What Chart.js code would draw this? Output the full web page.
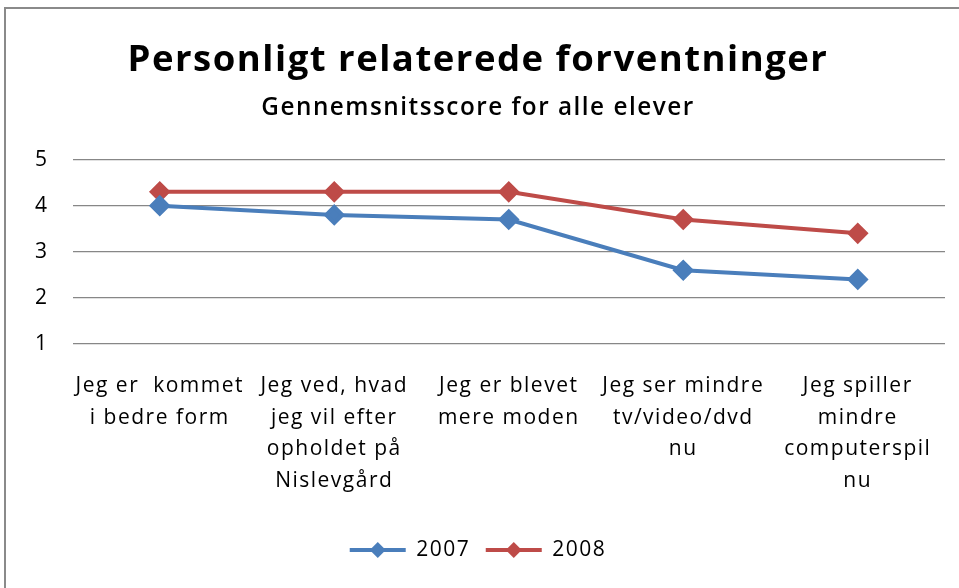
<!DOCTYPE html>
<html>
<head>
<meta charset="utf-8">
<script src="https://cdn.jsdelivr.net/npm/chart.js@4"></script>
<style>
  body { margin: 0; background: #fff; }
  #wrap { position: absolute; left: 0; top: 0; width: 959px; height: 588px; }
  #frame { position: absolute; left: 4px; top: 7px; width: 970px; height: 600px;
           border-top: 2px solid #8a8a8a; border-left: 2px solid #8a8a8a; pointer-events: none; }
</style>
</head>
<body>
<div id="wrap"><canvas id="chart" width="959" height="588"></canvas></div>
<div id="frame"></div>
<script>
const categories = [
    ['Jeg er  kommet', 'i bedre form'],
    ['Jeg ved, hvad', 'jeg vil efter', 'opholdet på', 'Nislevgård'],
    ['Jeg er blevet', 'mere moden'],
    ['Jeg ser mindre', 'tv/video/dvd', 'nu'],
    ['Jeg spiller', 'mindre', 'computerspil', 'nu']
]
const values2007 = [4.0, 3.8, 3.7, 2.6, 2.4]
const values2008 = [4.3, 4.3, 4.3, 3.7, 3.4]
const yTicks = [1, 2, 3, 4, 5]

const blue = '#4a7ebb'
const red = '#be4b48'
const fontFamily = '"Open Sans", "Noto Sans", sans-serif'

Chart.defaults.font.family = fontFamily
Chart.defaults.color = '#000'

// the original text is a bit wider spaced than Open Sans
const spacing = {
    id: 'spacing',
    beforeUpdate(chart) { chart.ctx.letterSpacing = '1.5px' },
    beforeDraw(chart) { chart.ctx.letterSpacing = '1.5px' }
}

// draws a diamond on each legend line, like the original
const legendMarkers = {
    id: 'legendMarkers',
    afterDraw(chart) {
        let legend = chart.legend
        if (!legend || !legend.legendHitBoxes) return
        let ctx = chart.ctx
        let boxW = legend.options.labels.boxWidth
        legend.legendHitBoxes.forEach((hb, i) => {
            let ds = chart.data.datasets[i]
            let cx = hb.left + boxW / 2
            let cy = hb.top + hb.height / 2
            let r = 8
            ctx.save()
            ctx.fillStyle = ds.borderColor
            ctx.beginPath()
            ctx.moveTo(cx, cy - r)
            ctx.lineTo(cx + r, cy)
            ctx.lineTo(cx, cy + r)
            ctx.lineTo(cx - r, cy)
            ctx.closePath()
            ctx.fill()
            ctx.restore()
        })
    }
}

new Chart(document.getElementById('chart').getContext('2d'), {
    type: 'line',
    data: {
        labels: categories,
        datasets: [{
            label: '2007',
            data: values2007,
            borderColor: blue,
            backgroundColor: blue,
            borderWidth: 4,
            pointStyle: 'rectRot',
            pointRadius: 8,
            pointHoverRadius: 8,
            tension: 0
        }, {
            label: '2008',
            data: values2008,
            borderColor: red,
            backgroundColor: red,
            borderWidth: 4,
            pointStyle: 'rectRot',
            pointRadius: 8,
            pointHoverRadius: 8,
            tension: 0
        }]
    },
    options: {
        responsive: false,
        animation: false,
        layout: { padding: { left: 11, right: 14, top: 8, bottom: 17.5 } },
        scales: {
            x: {
                offset: true,
                grid: { display: false },
                border: { display: false },
                afterFit: axis => { axis.height += 9 },
                ticks: {
                    autoSkip: false,
                    maxRotation: 0,
                    padding: 18.5,
                    font: { size: 21, lineHeight: 1.5 }
                }
            },
            y: {
                min: 1,
                max: 5,
                afterBuildTicks: axis => { axis.ticks = yTicks.map(v => ({ value: v })) },
                grid: { color: '#878787', lineWidth: 1.3, drawTicks: false },
                border: { display: false },
                ticks: { padding: 24, font: { size: 21 } }
            }
        },
        plugins: {
            title: {
                display: true,
                text: 'Personligt relaterede forventninger',
                font: { size: 36.5, weight: 'bold' },
                padding: { top: 31, bottom: 4 }
            },
            subtitle: {
                display: true,
                text: 'Gennemsnitsscore for alle elever',
                font: { size: 24.3, weight: '600' },
                padding: { top: 7, bottom: 36.6 }
            },
            legend: {
                position: 'bottom',
                labels: {
                    boxWidth: 56,
                    boxHeight: 4,
                    padding: 15.5,
                    font: { size: 21 },
                    generateLabels(chart) {
                        return Chart.defaults.plugins.legend.labels.generateLabels(chart).map(l => {
                            l.lineWidth = 0
                            return l
                        })
                    }
                }
            },
            tooltip: { enabled: false }
        }
    },
    plugins: [spacing, legendMarkers]
})
</script>
</body>
</html>
